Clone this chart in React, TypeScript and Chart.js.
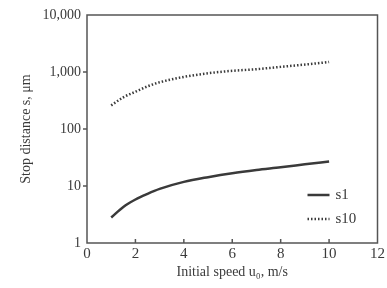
import React, { useEffect, useRef } from "react";
import { Chart, registerables } from "chart.js";

Chart.register(...registerables);

const speeds = [1, 1.5, 2, 2.5, 3, 4, 5, 6, 7, 8, 9, 10];
const s1 = [2.8, 4.3, 5.8, 7.3, 8.9, 11.8, 14.3, 16.8, 19.1, 21.3, 24, 27];
const s10 = [260, 360, 450, 560, 660, 820, 950, 1050, 1120, 1230, 1350, 1500];
const yTicks = [1, 10, 100, 1000, 10000];
const xTicksMax = 12;
const seriesNames = ["s1", "s10"];

const FONT = "'Liberation Serif', 'DejaVu Serif', serif";
const INK = "#3a3a3a";

const framePlugin = {
  id: "frame",
  afterDraw(chart: any) {
    const { ctx, chartArea: a } = chart;
    ctx.save();
    ctx.strokeStyle = "#555";
    ctx.lineWidth = 1.5;
    ctx.strokeRect(a.left, a.top, a.right - a.left, a.bottom - a.top);
    const xs = chart.scales.x;
    for (let v = 2; v < xTicksMax; v += 2) {
      const px = xs.getPixelForValue(v);
      ctx.beginPath();
      ctx.moveTo(px, a.bottom);
      ctx.lineTo(px, a.bottom - 4);
      ctx.stroke();
    }
    const ys = chart.scales.y;
    yTicks.slice(1, -1).forEach((v) => {
      const py = ys.getPixelForValue(v);
      ctx.beginPath();
      ctx.moveTo(a.left, py);
      ctx.lineTo(a.left - 4, py);
      ctx.stroke();
    });
    const lx = a.right - 70;
    const items = [
      { name: seriesNames[0], dash: [] as number[], y: a.bottom - 48 },
      { name: seriesNames[1], dash: [1.5, 2], y: a.bottom - 24 },
    ];
    items.forEach((it) => {
      ctx.strokeStyle = INK;
      ctx.lineWidth = 2.5;
      ctx.setLineDash(it.dash);
      ctx.beginPath();
      ctx.moveTo(lx, it.y);
      ctx.lineTo(lx + 22, it.y);
      ctx.stroke();
      ctx.setLineDash([]);
      ctx.fillStyle = INK;
      ctx.font = `15px ${FONT}`;
      ctx.textBaseline = "middle";
      ctx.textAlign = "left";
      ctx.fillText(it.name, lx + 28, it.y);
    });
    ctx.restore();
  },
};

export default function App() {
  const ref = useRef<HTMLCanvasElement>(null);
  useEffect(() => {
    if (!ref.current) return;
    const chart = new Chart(ref.current, {
      type: "line",
      data: {
        datasets: [
          {
            label: seriesNames[0],
            data: speeds.map((x, i) => ({ x, y: s1[i] })),
            borderColor: INK,
            borderWidth: 2.5,
            pointRadius: 0,
            cubicInterpolationMode: "monotone",
          },
          {
            label: seriesNames[1],
            data: speeds.map((x, i) => ({ x, y: s10[i] })),
            borderColor: INK,
            borderWidth: 2.5,
            borderDash: [1.5, 2],
            pointRadius: 0,
            cubicInterpolationMode: "monotone",
          },
        ],
      },
      options: {
        animation: false,
        responsive: false,
        layout: { padding: { left: 0, right: 9, top: 15, bottom: 0 } },
        plugins: { legend: { display: false }, tooltip: { enabled: false } },
        scales: {
          x: {
            type: "linear",
            min: 0,
            max: xTicksMax,
            grid: { display: false, drawTicks: false },
            border: { display: false },
            ticks: {
              stepSize: 2,
              color: INK,
              font: { family: FONT, size: 15 },
              padding: 2,
            },
            title: {
              display: true,
              text: "Initial speed u\u2080, m/s",
              color: INK,
              font: { family: FONT, size: 14 },
              padding: { top: 0, bottom: 7 },
            },
            afterFit: (s: any) => {
              s.height = 45;
            },
          },
          y: {
            type: "logarithmic",
            min: 1,
            max: 10000,
            grid: { display: false, drawTicks: false },
            border: { display: false },
            afterBuildTicks: (s: any) => {
              s.ticks = yTicks.map((v) => ({ value: v }));
            },
            ticks: {
              color: INK,
              font: { family: FONT, size: 14 },
              padding: 6,
              callback: (v: any) => Number(v).toLocaleString("en-US"),
            },
            title: {
              display: true,
              text: "Stop distance s, \u03bcm",
              color: INK,
              font: { family: FONT, size: 14 },
              padding: { top: 18, bottom: 0 },
            },
            afterFit: (s: any) => {
              s.width = 87;
            },
          },
        },
      },
      plugins: [framePlugin],
    } as any);
    return () => chart.destroy();
  }, []);
  return (
    <div style={{ position: "absolute", left: 0, top: 0, width: 387, height: 288, background: "#fff" }}>
      <canvas ref={ref} width={387} height={288} />
    </div>
  );
}
